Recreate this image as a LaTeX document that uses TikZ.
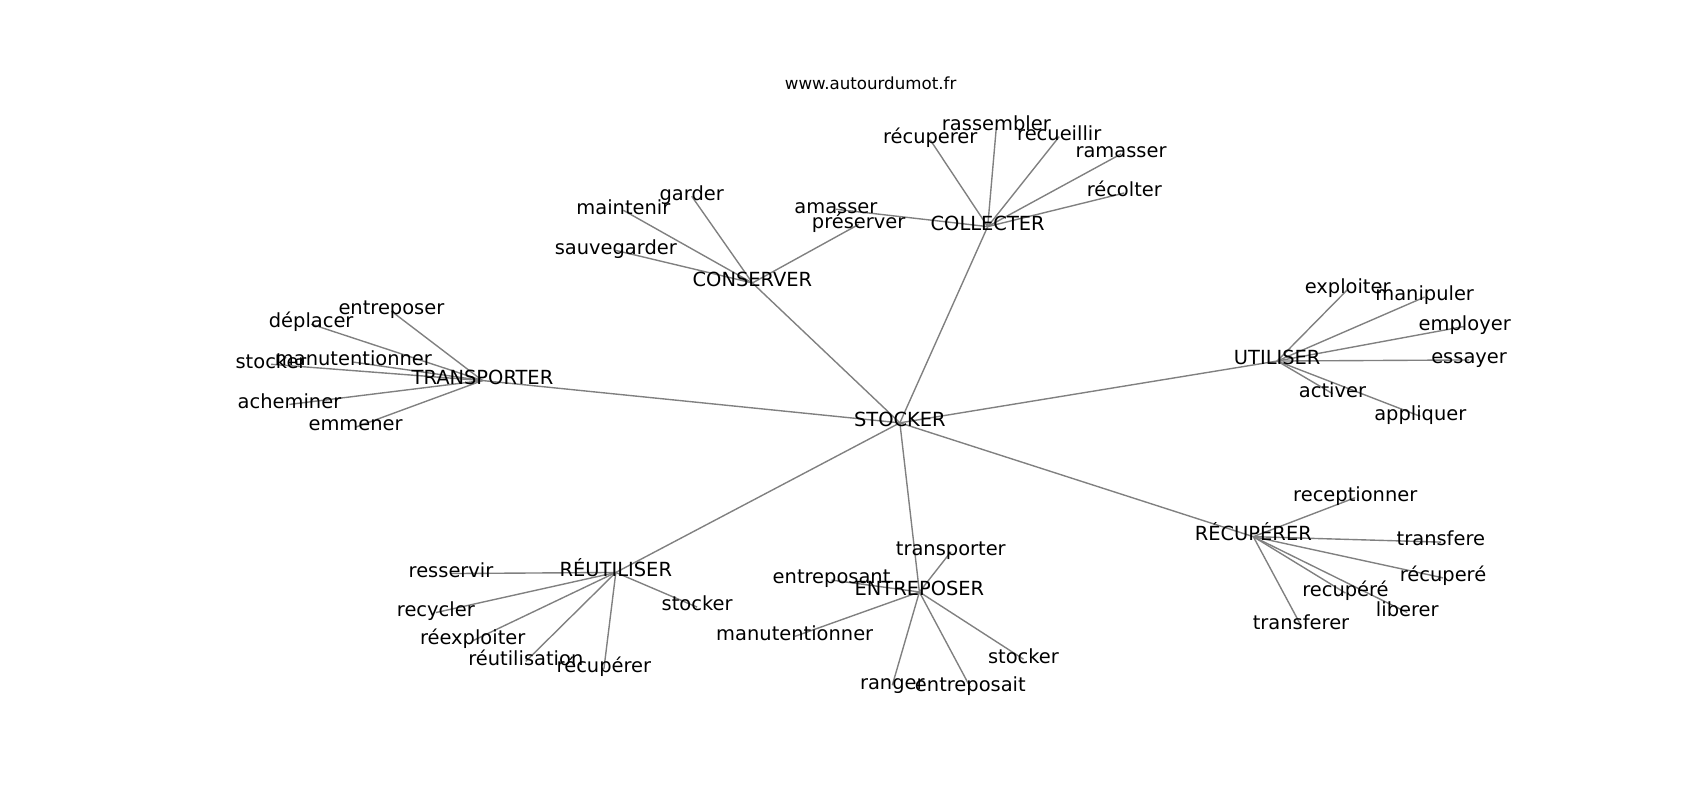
\documentclass[tikz,border=0pt]{standalone}
\usepackage{fontspec}
\setmainfont{DejaVu Sans}
\usetikzlibrary{backgrounds}
\begin{document}
\begin{tikzpicture}[x=0.7806pt,y=-0.7806pt,
  lbl/.style={inner sep=0pt, text height=0.76em, text depth=0.21em, font=\fontsize{14}{16}\selectfont},
  ttl/.style={inner sep=0pt, text height=0.76em, text depth=0.21em, font=\fontsize{12}{14}\selectfont},
  edge/.style={draw=gray, line width=1pt}]
\useasboundingbox (0,-3) rectangle (1568,735);
\node[ttl] (title) at (803,76) {www.autourdumot.fr};
% hubs
\node[lbl] (stocker) at (830,387) {STOCKER};
\node[lbl] (collecter) at (911,206) {COLLECTER};
\node[lbl] (conserver) at (694,258) {CONSERVER};
\node[lbl] (transporter) at (445,348) {TRANSPORTER};
\node[lbl] (utiliser) at (1178,330) {UTILISER};
\node[lbl] (recuperer) at (1156,492) {RÉCUPÉRER};
\node[lbl] (entreposer) at (848,543) {ENTREPOSER};
\node[lbl] (reutiliser) at (568,525) {RÉUTILISER};
% collecter leaves
\node[lbl] (c1) at (858,126) {récuperer};
\node[lbl] (c2) at (919,114) {rassembler};
\node[lbl] (c3) at (977,123) {recueillir};
\node[lbl] (c4) at (1034,139) {ramasser};
\node[lbl] (c5) at (1037,175) {récolter};
\node[lbl] (c6) at (771,190) {amasser};
% conserver leaves
\node[lbl] (k1) at (638,178) {garder};
\node[lbl] (k2) at (575,191) {maintenir};
\node[lbl] (k3) at (568,228) {sauvegarder};
\node[lbl] (k4) at (792,204) {préserver};
% transporter leaves
\node[lbl] (t1) at (361,284) {entreposer};
\node[lbl] (t2) at (287,296) {déplacer};
\node[lbl] (t3) at (250,333) {stocker};
\node[lbl] (t4) at (326,331) {manutentionner};
\node[lbl] (t5) at (267,370) {acheminer};
\node[lbl] (t6) at (328,391) {emmener};
% utiliser leaves
\node[lbl] (u1) at (1243,264) {exploiter};
\node[lbl] (u2) at (1314,271) {manipuler};
\node[lbl] (u3) at (1351,298) {employer};
\node[lbl] (u4) at (1355,329) {essayer};
\node[lbl] (u5) at (1229,360) {activer};
\node[lbl] (u6) at (1310,381) {appliquer};
% recuperer leaves
\node[lbl] (r1) at (1250,456) {receptionner};
\node[lbl] (r2) at (1329,497) {transfere};
\node[lbl] (r3) at (1331,530) {récuperé};
\node[lbl] (r4) at (1241,544) {recupéré};
\node[lbl] (r5) at (1298,562) {liberer};
\node[lbl] (r6) at (1200,574) {transferer};
% entreposer leaves
\node[lbl] (e1) at (877,506) {transporter};
\node[lbl] (e2) at (767,532) {entreposant};
\node[lbl] (e3) at (733,584) {manutentionner};
\node[lbl] (e4) at (823,629) {ranger};
\node[lbl] (e5) at (895,631) {entreposait};
\node[lbl] (e6) at (944,605) {stocker};
% reutiliser leaves
\node[lbl] (x1) at (416,526) {resservir};
\node[lbl] (x2) at (402,562) {recycler};
\node[lbl] (x3) at (436,588) {réexploiter};
\node[lbl] (x4) at (485,607) {réutilisation};
\node[lbl] (x5) at (557,614) {récupérer};
\node[lbl] (x6) at (643,557) {stocker};
\begin{scope}[on background layer]
\foreach \h in {collecter,conserver,transporter,utiliser,recuperer,entreposer,reutiliser}
  \draw[edge] (stocker.center) -- (\h.center);
\foreach \l in {c1,c2,c3,c4,c5,c6}
  \draw[edge] (collecter.center) -- (\l.center);
\foreach \l in {k1,k2,k3,k4}
  \draw[edge] (conserver.center) -- (\l.center);
\foreach \l in {t1,t2,t3,t4,t5,t6}
  \draw[edge] (transporter.center) -- (\l.center);
\foreach \l in {u1,u2,u3,u4,u5,u6}
  \draw[edge] (utiliser.center) -- (\l.center);
\foreach \l in {r1,r2,r3,r4,r5,r6}
  \draw[edge] (recuperer.center) -- (\l.center);
\foreach \l in {e1,e2,e3,e4,e5,e6}
  \draw[edge] (entreposer.center) -- (\l.center);
\foreach \l in {x1,x2,x3,x4,x5,x6}
  \draw[edge] (reutiliser.center) -- (\l.center);
\end{scope}
\end{tikzpicture}
\end{document}
